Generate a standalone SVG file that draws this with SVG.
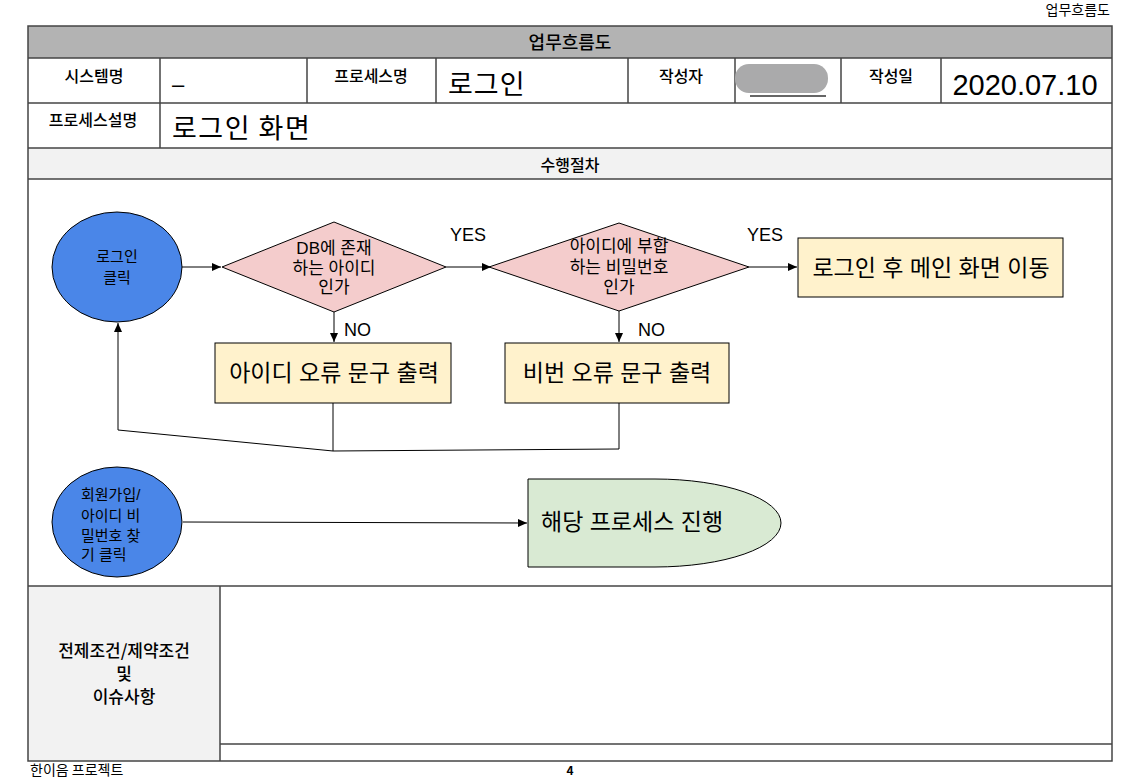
<svg xmlns="http://www.w3.org/2000/svg" width="1137" height="778" viewBox="0 0 1137 778">
<style>
.t{font-family:"Noto Sans CJK KR","Liberation Sans",sans-serif;fill:#000}
.b{font-weight:500}
.f{font-family:"Liberation Sans","Noto Sans CJK KR",sans-serif;fill:#000}
.c{stroke:#000;stroke-width:1;fill:none}
.g{stroke:#444;stroke-width:1.5;fill:none}
.n{stroke:#000;stroke-width:1}
</style>
<defs>
<marker id="a" markerWidth="10" markerHeight="10" refX="9" refY="5" orient="auto" markerUnits="userSpaceOnUse">
<path d="M0,1 L9,5 L0,9 Z" fill="#000"/>
</marker>
</defs>
<rect width="1137" height="778" fill="#fff"/>
<text class="t" x="1110" y="15" font-size="14" text-anchor="end">업무흐름도</text>
<text class="t" x="30" y="775" font-size="14">한이음 프로젝트</text>
<text class="t" x="570" y="775" font-size="12" font-weight="bold" text-anchor="middle">4</text>

<g id="table">
<rect x="28" y="26" width="1084" height="32" fill="#b3b3b3"/>
<rect x="28" y="148" width="1084" height="31" fill="#f2f2f2"/>
<rect x="28" y="586" width="192" height="175" fill="#f2f2f2"/>
<rect x="28" y="26" width="1084" height="735" fill="none" stroke="#444" stroke-width="1.5"/>
<line class="g" x1="28" y1="58" x2="1112" y2="58"/>
<line class="g" x1="28" y1="103" x2="1112" y2="103"/>
<line class="g" x1="28" y1="148" x2="1112" y2="148"/>
<line class="g" x1="28" y1="179" x2="1112" y2="179"/>
<line class="g" x1="28" y1="586" x2="1112" y2="586"/>
<line class="g" x1="220" y1="744" x2="1112" y2="744"/>
<line class="g" x1="220" y1="586" x2="220" y2="761"/>
<line class="g" x1="160" y1="58" x2="160" y2="148"/>
<line class="g" x1="307" y1="58" x2="307" y2="103"/>
<line class="g" x1="436" y1="58" x2="436" y2="103"/>
<line class="g" x1="628" y1="58" x2="628" y2="103"/>
<line class="g" x1="735" y1="58" x2="735" y2="103"/>
<line class="g" x1="841" y1="58" x2="841" y2="103"/>
<line class="g" x1="941" y1="58" x2="941" y2="103"/>
<text class="t b" x="570" y="49" font-size="18" text-anchor="middle">업무흐름도</text>
<text class="t b" x="94" y="82" font-size="16" text-anchor="middle">시스템명</text>
<text class="f" x="172" y="92" font-size="22">–</text>
<text class="t b" x="371" y="82" font-size="16" text-anchor="middle">프로세스명</text>
<text class="t" x="448" y="94" font-size="27" letter-spacing="1">로그인</text>
<text class="t b" x="681" y="82" font-size="16" text-anchor="middle">작성자</text>
<line x1="750" y1="96" x2="826" y2="96" stroke="#333" stroke-width="1.5"/>
<rect x="735" y="64" width="93" height="29" rx="14" fill="#aaaaab"/>
<text class="t b" x="891" y="82" font-size="16" text-anchor="middle">작성일</text>
<text class="f" x="1025" y="95" font-size="29" text-anchor="middle">2020.07.10</text>
<text class="t b" x="93" y="126" font-size="16" text-anchor="middle">프로세스설명</text>
<text class="t" x="172" y="138" font-size="27" letter-spacing="1.5">로그인 화면</text>
<text class="t b" x="570" y="171" font-size="16" text-anchor="middle">수행절차</text>
<text class="t b" x="124" y="657" font-size="17" text-anchor="middle">전제조건/제약조건</text>
<text class="t b" x="124" y="680" font-size="17" text-anchor="middle">및</text>
<text class="t b" x="124" y="703" font-size="17" text-anchor="middle">이슈사항</text>
</g>

<g id="connectors">
<line class="c" x1="182" y1="267" x2="221" y2="267" marker-end="url(#a)"/>
<line class="c" x1="446" y1="267" x2="491" y2="267" marker-end="url(#a)"/>
<line class="c" x1="749" y1="267" x2="797" y2="267" marker-end="url(#a)"/>
<line class="c" x1="334" y1="312" x2="334" y2="342" marker-end="url(#a)"/>
<line class="c" x1="619" y1="311" x2="619" y2="342" marker-end="url(#a)"/>
<polyline class="c" points="333,403 333,451 619,449 619,403"/>
<polyline class="c" points="333,451 118,430 118,323" marker-end="url(#a)"/>
<line class="c" x1="183" y1="522" x2="527" y2="523" marker-end="url(#a)"/>
<text class="f" x="468" y="241" font-size="18" text-anchor="middle">YES</text>
<text class="f" x="765" y="241" font-size="18" text-anchor="middle">YES</text>
<text class="f" x="344" y="336" font-size="18">NO</text>
<text class="f" x="638" y="336" font-size="18">NO</text>
</g>

<g id="start-login">
<ellipse class="n" cx="117" cy="267" rx="65" ry="55" fill="#4a86e8"/>
<text class="f" x="117" y="262" font-size="15" text-anchor="middle">로그인</text>
<text class="f" x="117" y="283" font-size="15" text-anchor="middle">클릭</text>
</g>

<g id="check-id">
<polygon class="n" points="222,267 334,222 446,267 334,312" fill="#f4cccc"/>
<text class="f" x="334" y="254" font-size="17" text-anchor="middle">DB에 존재</text>
<text class="f" x="334" y="274" font-size="17" text-anchor="middle">하는 아이디</text>
<text class="f" x="334" y="293" font-size="17" text-anchor="middle">인가</text>
</g>

<g id="check-pw">
<polygon class="n" points="489,267 619,223 749,267 619,311" fill="#f4cccc"/>
<text class="f" x="619" y="252" font-size="17" text-anchor="middle">아이디에 부합</text>
<text class="f" x="619" y="273" font-size="17" text-anchor="middle">하는 비밀번호</text>
<text class="f" x="619" y="293" font-size="17" text-anchor="middle">인가</text>
</g>

<g id="main-move">
<rect class="n" x="798" y="238" width="265" height="59" fill="#fff2cc"/>
<text class="f" x="931" y="276" font-size="23" text-anchor="middle">로그인 후 메인 화면 이동</text>
</g>

<g id="id-error">
<rect class="n" x="215" y="343" width="236" height="60" fill="#fff2cc"/>
<text class="f" x="334" y="381" font-size="23" text-anchor="middle">아이디 오류 문구 출력</text>
</g>

<g id="pw-error">
<rect class="n" x="505" y="343" width="224" height="60" fill="#fff2cc"/>
<text class="f" x="617" y="381" font-size="23" text-anchor="middle">비번 오류 문구 출력</text>
</g>

<g id="start-join">
<ellipse class="n" cx="117" cy="522" rx="65" ry="55" fill="#4a86e8"/>
<text class="f" x="81" y="500" font-size="15">회원가입/</text>
<text class="f" x="81" y="521" font-size="15">아이디 비</text>
<text class="f" x="81" y="541" font-size="15">밀번호 찾</text>
<text class="f" x="81" y="560" font-size="15">기 클릭</text>
</g>

<g id="proceed">
<path class="n" d="M528,479 L655,479 A126,44 0 0 1 655,567 L528,567 Z" fill="#d9ead3"/>
<text class="f" x="541" y="530" font-size="23">해당 프로세스 진행</text>
</g>
</svg>
